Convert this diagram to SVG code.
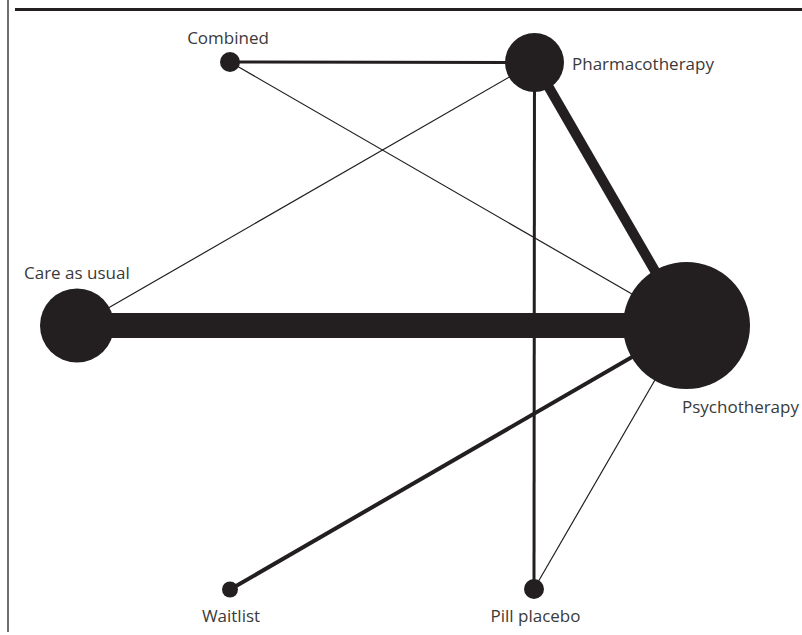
<svg xmlns="http://www.w3.org/2000/svg" width="802" height="635" viewBox="0 0 802 635">
<style>
.n{fill:#231f20}
.e{stroke:#231f20;fill:none}
.t{font-family:"Open Sans","Noto Sans",sans-serif;font-size:17px;fill:#3a3a3a}
</style>
<rect width="802" height="635" fill="#fff"/>
<line x1="8" y1="0" x2="8" y2="632" stroke="#231f20" stroke-width="1.3"/>
<line x1="15" y1="9.5" x2="802" y2="9.5" stroke="#231f20" stroke-width="3"/>
<g id="connectors">
<line class="e" x1="230" y1="62" x2="534.5" y2="62.5" stroke-width="3"/>
<line class="e" x1="230" y1="62" x2="686.5" y2="325.5" stroke-width="1.2"/>
<line class="e" x1="534.5" y1="62.5" x2="77" y2="326" stroke-width="1.2"/>
<line class="e" x1="534.5" y1="62.5" x2="686.5" y2="325.5" stroke-width="10"/>
<line class="e" x1="534.5" y1="62.5" x2="534" y2="589" stroke-width="3"/>
<line class="e" x1="77" y1="325.5" x2="686.5" y2="325.5" stroke-width="25"/>
<line class="e" x1="686.5" y1="325.5" x2="230" y2="589.5" stroke-width="4"/>
<line class="e" x1="686.5" y1="325.5" x2="534" y2="589" stroke-width="1.2"/>
</g>
<g id="combined"><circle class="n" cx="230" cy="62" r="10"/><text class="t" x="228" y="44" text-anchor="middle">Combined</text></g>
<g id="pharmacotherapy"><circle class="n" cx="534.5" cy="62.5" r="29.5"/><text class="t" x="572" y="70">Pharmacotherapy</text></g>
<g id="care"><circle class="n" cx="77" cy="325.5" r="37"/><text class="t" x="24" y="279">Care as usual</text></g>
<g id="psychotherapy"><circle class="n" cx="686.5" cy="325.5" r="63.5"/><text class="t" x="682" y="413">Psychotherapy</text></g>
<g id="waitlist"><circle class="n" cx="230" cy="589.5" r="8"/><text class="t" x="231" y="622" text-anchor="middle">Waitlist</text></g>
<g id="pillplacebo"><circle class="n" cx="534" cy="589" r="10"/><text class="t" x="535.5" y="622" text-anchor="middle">Pill placebo</text></g>
</svg>
